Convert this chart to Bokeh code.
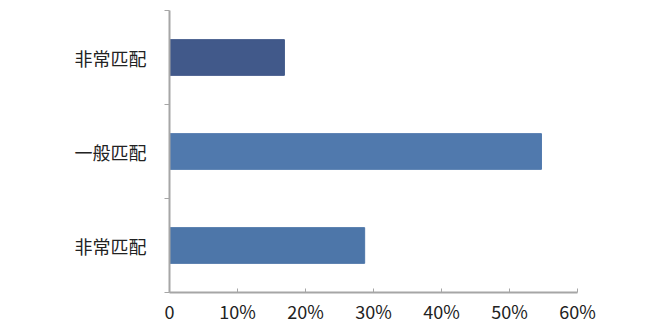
from bokeh.plotting import figure
from bokeh.models import FixedTicker, CustomJSTickFormatter, Range1d, ColumnDataSource
from bokeh.embed import file_html
from bokeh.resources import INLINE

# data, bottom to top
categories = ["非常匹配", "一般匹配", "非常匹配"]
values = [28.7, 54.7, 16.9]
x_ticks = [0, 10, 20, 30, 40, 50, 60]
bar_colors = ["#4d76a9", "#5079ad", "#41598a"]

ypos = [i + 0.5 for i in range(len(categories))]
src = ColumnDataSource(dict(y=ypos, right=values, color=bar_colors))

p = figure(width=661, height=331, output_backend="svg", toolbar_location=None,
           x_range=Range1d(0, 60), y_range=Range1d(0, len(categories)),
           min_border_left=169, min_border_right=84, min_border_top=10, min_border_bottom=39)
p.hbar(y="y", left=0, right="right", height=0.38, color="color", source=src)

p.xgrid.visible = False
p.ygrid.visible = False
p.outline_line_color = None
p.background_fill_color = "white"

label_font = "Noto Sans CJK SC"

xa = p.xaxis[0]
xa.ticker = FixedTicker(ticks=x_ticks)
xa.formatter = CustomJSTickFormatter(code='return tick == 0 ? "0" : Math.round(tick) + "%";')
xa.axis_line_color = "#a6a6a6"
xa.axis_line_width = 2
xa.major_tick_line_color = "#a6a6a6"
xa.major_tick_in = 4
xa.major_tick_out = 0
xa.minor_tick_line_color = None
xa.major_label_text_font = label_font
xa.major_label_text_font_size = "18px"
xa.major_label_text_color = "#222222"
xa.major_label_standoff = 5

ya = p.yaxis[0]
ya.ticker = FixedTicker(ticks=ypos, minor_ticks=[0, 1, 2, 3])
ya.major_label_overrides = {y: c for y, c in zip(ypos, categories)}
ya.axis_line_color = "#a6a6a6"
ya.axis_line_width = 2
ya.major_tick_line_color = None
ya.minor_tick_line_color = "#a6a6a6"
ya.minor_tick_line_width = 1
ya.minor_tick_out = 5
ya.minor_tick_in = 0
ya.major_label_text_font = label_font
ya.major_label_text_font_size = "18px"
ya.major_label_text_color = "#222222"
ya.major_label_standoff = 17

open("out.html", "w").write(file_html(p, INLINE))
